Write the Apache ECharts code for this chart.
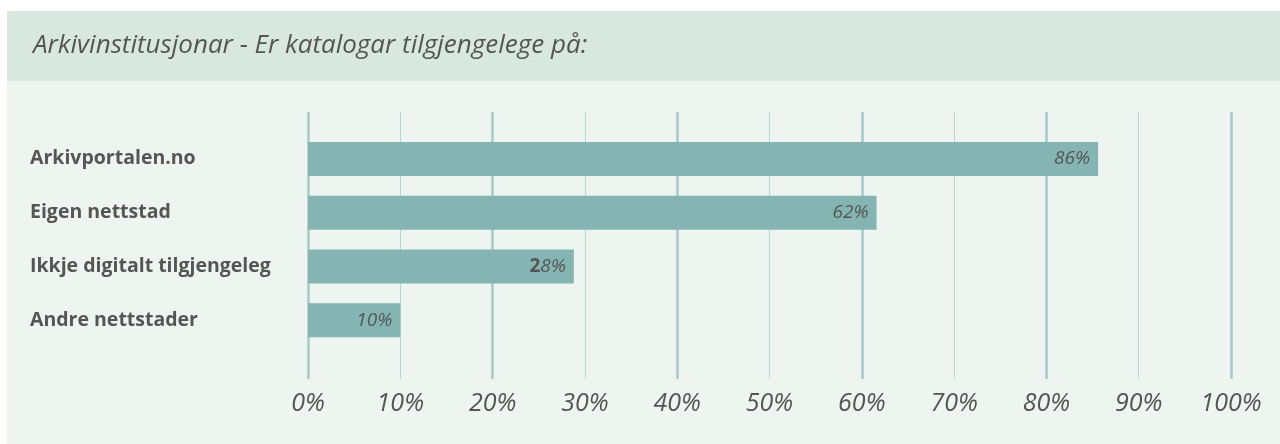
<!DOCTYPE html>
<html>
<head>
<meta charset="utf-8">
<script src="https://cdn.jsdelivr.net/npm/echarts@6/dist/echarts.min.js"></script>
<style>
  html, body { margin: 0; padding: 0; background: #fff; }
  #chart { width: 1280px; height: 444px; }
</style>
</head>
<body>
<div id="chart"></div>
<script>
// data
var titleText = 'Arkivinstitusjonar - Er katalogar tilgjengelege på:';
var categories = ['Arkivportalen.no', 'Eigen nettstad', 'Ikkje digitalt tilgjengeleg', 'Andre nettstader'];
var shares = [85.6, 61.6, 28.8, 10];
var shareLabels = ['86%', '62%', '{b|2}8%', '10%'];
var tickValues = [0, 10, 20, 30, 40, 50, 60, 70, 80, 90, 100];

var textColor = '#555555';
var font = 'Open Sans';
var chart = echarts.init(document.getElementById('chart'));

var option = {
  animation: false,
  backgroundColor: '#ffffff',
  graphic: [
    { type: 'rect', z: -10, shape: { x: 7, y: 11, width: 1273, height: 70 }, style: { fill: '#d9e8de' } },
    { type: 'rect', z: -10, shape: { x: 7, y: 81, width: 1273, height: 363 }, style: { fill: '#eef5f1' } }
  ],
  title: {
    text: titleText,
    left: 28,
    top: 28,
    textStyle: { fontFamily: font, fontStyle: 'italic', fontWeight: 500, fontSize: 26, color: textColor }
  },
  grid: [
    // grid for the vertical lines and percent labels
    { left: 308, right: 49, top: 112, bottom: 65 },
    // grid for the bars
    { left: 308, right: 49, top: 132, bottom: 97 }
  ],
  xAxis: [
    {
      gridIndex: 0, type: 'value', min: 0, max: 100, interval: 10,
      axisLine: { show: false }, axisTick: { show: false },
      splitLine: { show: true, lineStyle: { color: '#b7d6d7', width: 1 } },
      axisLabel: {
        margin: 12,
        formatter: function (v) { return tickValues.indexOf(v) >= 0 ? v + '%' : ''; },
        fontFamily: font, fontStyle: 'italic', fontWeight: 500, fontSize: 25, color: textColor
      }
    },
    {
      gridIndex: 0, type: 'value', min: 0, max: 100, interval: 20, position: 'bottom',
      axisLine: { show: false }, axisTick: { show: false }, axisLabel: { show: false },
      splitLine: { show: true, lineStyle: { color: '#a6c9ca', width: 2.5 } }
    },
    {
      gridIndex: 1, type: 'value', min: 0, max: 100, show: false,
      splitLine: { show: false }
    }
  ],
  yAxis: [
    { gridIndex: 0, type: 'value', show: false, splitLine: { show: false } },
    {
      gridIndex: 1, type: 'category', inverse: true, data: categories,
      axisLine: { show: false }, axisTick: { show: false }, splitLine: { show: false },
      axisLabel: {
        align: 'left', margin: 278, padding: [0, 0, 13, 0],
        fontFamily: font, fontWeight: 'bold', fontSize: 19.5, color: textColor
      }
    }
  ],
  series: [
    {
      type: 'bar',
      xAxisIndex: 2,
      yAxisIndex: 1,
      data: shares,
      barWidth: 34,
      itemStyle: { color: '#84b5b2' },
      label: {
        show: true,
        position: 'insideRight',
        distance: 8,
        formatter: function (p) { return shareLabels[p.dataIndex]; },
        fontFamily: font, fontStyle: 'italic', fontWeight: 500, fontSize: 19, color: textColor,
        rich: {
          b: { fontFamily: font, fontWeight: 'bold', fontStyle: 'normal', fontSize: 19, color: textColor }
        }
      }
    }
  ]
};

chart.setOption(option);
</script>
</body>
</html>
